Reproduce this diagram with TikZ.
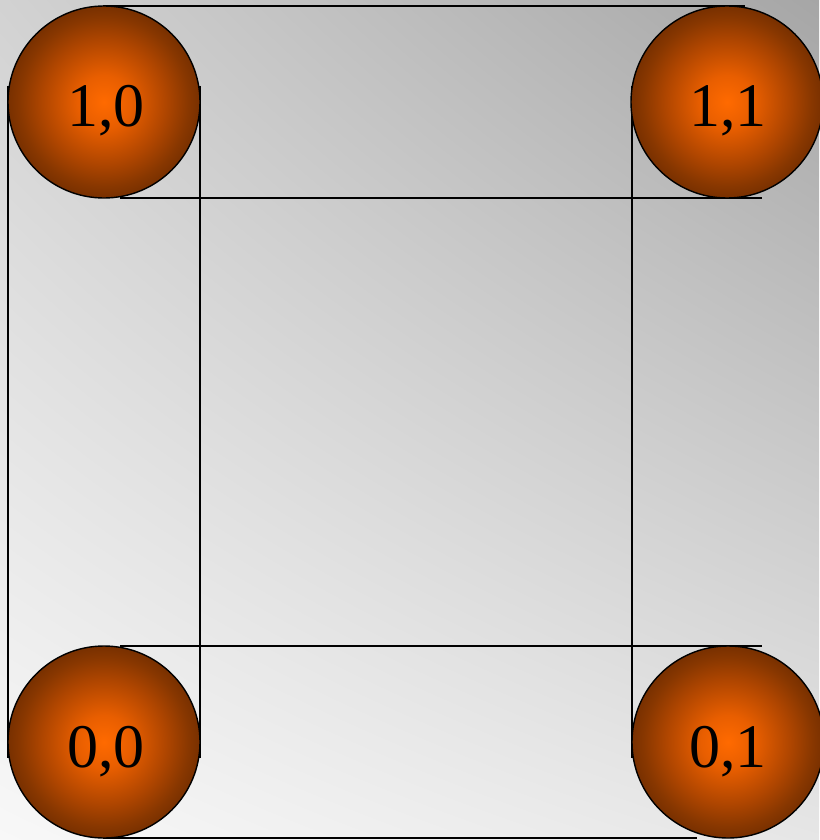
\documentclass[tikz,border=0pt]{standalone}
\usepackage{fontspec}
\setmainfont{Liberation Serif}
\usetikzlibrary{shadings}
\definecolor{bgLL}{HTML}{F8F8F8}
\definecolor{bgUR}{HTML}{A6A6A6}
\definecolor{bgUL}{HTML}{D2D2D2}
\definecolor{bgLR}{HTML}{E6E6E6}
\definecolor{sphA}{HTML}{FF6A00}
\definecolor{sphB}{HTML}{E85E00}
\definecolor{sphC}{HTML}{B04600}
\definecolor{sphD}{HTML}{883700}
\definecolor{sphE}{HTML}{783000}
\pgfdeclareradialshading{sphere}{\pgfpoint{0bp}{0bp}}{color(0bp)=(sphA); color(7bp)=(sphB); color(16bp)=(sphC); color(22bp)=(sphD); color(25bp)=(sphE); color(50bp)=(sphE)}
\tikzset{
  edge/.style={draw=black, line width=1.6pt},
  ball/.style={circle, minimum size=192pt, inner sep=0pt, draw=black, line width=1.4pt, shading=sphere, text=black},
  lbl/.style={font=\fontsize{62}{62}\selectfont, text=black, inner sep=0pt},
}
\begin{document}
\begin{tikzpicture}[x=1pt,y=-1pt]
\useasboundingbox (0,0) rectangle (819,840);
\shade[lower left=bgLL, upper right=bgUR, upper left=bgUL, lower right=bgLR] (0,0) rectangle (819,840);
% named coordinates for line ends
\coordinate (t1) at (103,6);   \coordinate (t2) at (745,6);
\coordinate (u1) at (120,198); \coordinate (u2) at (762,198);
\coordinate (l1) at (8,86);    \coordinate (l2) at (8,758);
\coordinate (m1) at (200,86);  \coordinate (m2) at (200,758);
\coordinate (r1) at (632,86);  \coordinate (r2) at (632,758);
\coordinate (w1) at (120,646); \coordinate (w2) at (762,646);
\coordinate (b1) at (103,838); \coordinate (b2) at (697,838);
\draw[edge] (t1) -- (t2);
\draw[edge] (u1) -- (u2);
\draw[edge] (l1) -- (l2);
\draw[edge] (m1) -- (m2);
\draw[edge] (r1) -- (r2);
\draw[edge] (w1) -- (w2);
\draw[edge] (b1) -- (b2);
\node[ball] (n10) at (104,102) {};
\node[ball] (n11) at (727,102) {};
\node[ball] (n00) at (104,742) {};
\node[ball] (n01) at (728,742) {};
\node[lbl, anchor=base] (t10) at (106,127) {1,0};
\node[lbl, anchor=base] (t11) at (728,127) {1,1};
\node[lbl, anchor=base] (t00) at (106,767) {0,0};
\node[lbl, anchor=base] (t01) at (728,767) {0,1};
\end{tikzpicture}
\end{document}
